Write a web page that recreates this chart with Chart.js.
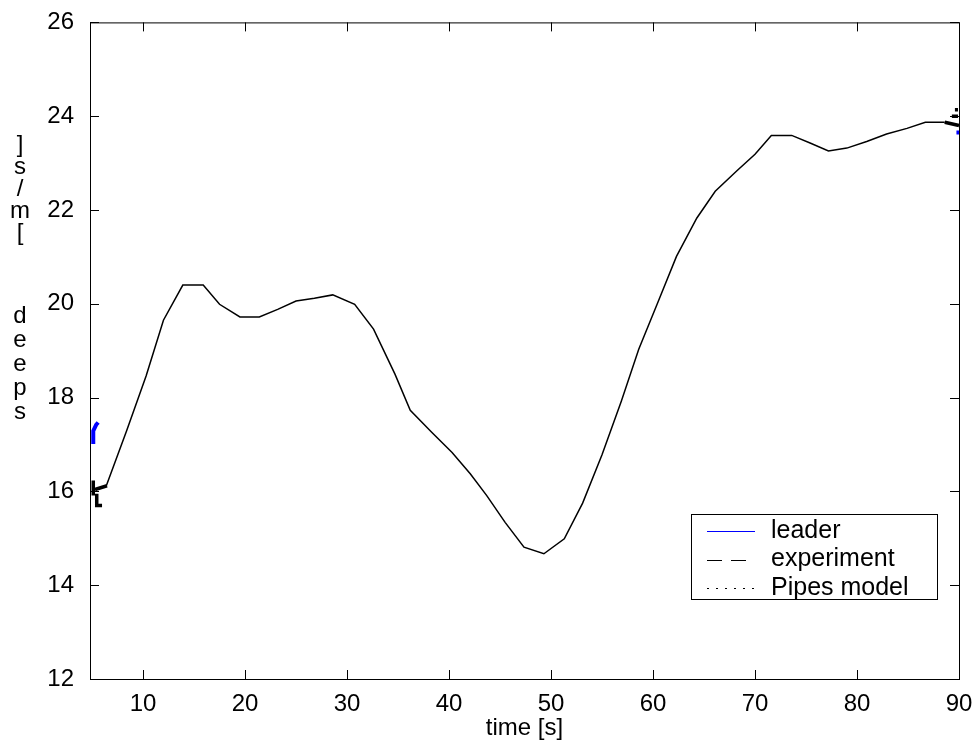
<!DOCTYPE html>
<html>
<head>
<meta charset="utf-8">
<title>speed vs time</title>
<script src="https://cdn.jsdelivr.net/npm/chart.js@4.4.1/dist/chart.umd.min.js"></script>
<style>
  html, body { margin: 0; padding: 0; background: #fff; }
  #wrap { width: 979px; height: 748px; }
</style>
</head>
<body>
<div id="wrap"><canvas id="speedChart" width="979" height="748"></canvas></div>
<script>
// data
const modelTime = [6.4, 8.4, 10.3, 12.0, 13.9, 15.9, 17.5, 19.5, 21.4, 23.2, 25.0, 26.8, 28.6, 30.75,
    32.6, 34.7, 36.2, 38.3, 40.3, 42.1, 43.7, 45.5, 47.35, 49.3, 51.3, 53.1, 55.0, 56.9, 58.6, 60.4,
    62.3, 64.3, 66.1, 68.2, 70.0, 71.6, 73.6, 75.4, 77.2, 79.0, 80.95, 82.9, 84.9, 86.7, 88.6];
const modelSpeed = [16.12, 17.3, 18.46, 19.65, 20.40, 20.40, 19.99, 19.72, 19.72, 19.88, 20.06, 20.12, 20.19, 19.99,
    19.46, 18.5, 17.73, 17.26, 16.83, 16.37, 15.91, 15.34, 14.81, 14.67, 14.99, 15.75, 16.78, 17.93, 19.03, 19.99,
    21.01, 21.83, 22.40, 22.83, 23.19, 23.59, 23.59, 23.43, 23.26, 23.32, 23.46, 23.62, 23.74, 23.87, 23.87];

// leader: only short pieces visible at both ends (null = break)
const leaderTime  = [5.12, 5.12, 5.4, 5.6, null, 89.75, 90.0];
const leaderSpeed = [17.01, 17.29, 17.42, 17.47, null, 23.65, 23.65];

// experiment: thick black fragments at both ends
const expTime  = [5.12, 5.12, null, 5.29, 6.47, null, 5.46, 5.46, 5.98, null, 88.6, 90.0, null, 89.6, 89.9, null, 89.3, 89.9];
const expSpeed = [16.23, 15.91, null, 16.04, 16.12, null, 15.95, 15.70, 15.70, null, 23.87, 23.80, null, 24.14, 24.14, null, 24.0, 24.0];

const xTicks = [10, 20, 30, 40, 50, 60, 70, 80, 90];
const yTicks = [12, 14, 16, 18, 20, 22, 24, 26];
const legendLabels = ['leader', 'experiment', 'Pipes model'];

const FONT = "'Liberation Sans', Arial, Helvetica, sans-serif";

function toPoints(xs, ys) {
    return xs.map((x, i) => (x === null ? { x: NaN, y: null } : { x: x, y: ys[i] }));
}

// box + inward tick marks like the original plot
const frameTicks = {
    id: 'frameTicks',
    afterDatasetsDraw(chart) {
        const { ctx, chartArea: a, scales } = chart;
        ctx.save();
        ctx.strokeStyle = '#000';
        ctx.lineWidth = 1;
        ctx.strokeRect(a.left + 0.5, a.top + 0.5, a.right - a.left, a.bottom - a.top);
        const len = 9;
        ctx.beginPath();
        xTicks.forEach(v => {
            const px = Math.round(scales.x.getPixelForValue(v)) + 0.5;
            ctx.moveTo(px, a.bottom); ctx.lineTo(px, a.bottom - len);
            ctx.moveTo(px, a.top); ctx.lineTo(px, a.top + len);
        });
        yTicks.forEach(v => {
            const py = Math.round(scales.y.getPixelForValue(v)) + 0.5;
            ctx.moveTo(a.left, py); ctx.lineTo(a.left + len, py);
            ctx.moveTo(a.right, py); ctx.lineTo(a.right - len, py);
        });
        ctx.stroke();
        ctx.restore();
    },
    afterDraw(chart) {
        const ctx = chart.ctx;
        ctx.save();
        // stacked y label (as in the source figure)
        ctx.fillStyle = '#000';
        ctx.font = '24px ' + FONT;
        ctx.textAlign = 'center';
        ctx.textBaseline = 'alphabetic';
        const parts = 'speed [m/s]'.split('').reverse().join('').split(' ');
        parts[0].split('').forEach((c, i) => ctx.fillText(c, 20, 152 + i * 22));
        parts[1].split('').forEach((c, i) => ctx.fillText(c, 20, 323 + i * 24));

        // legend box
        const bx = 691, by = 514, bw = 246, bh = 85;
        ctx.fillStyle = '#fff';
        ctx.fillRect(bx, by, bw, bh);
        ctx.strokeStyle = '#000';
        ctx.lineWidth = 1;
        ctx.strokeRect(bx + 0.5, by + 0.5, bw, bh);
        const styles = [
            { color: '#0000ff', dash: [] },
            { color: '#000', dash: [15, 9] },
            { color: '#000', dash: [2, 7] }
        ];
        legendLabels.forEach((lab, i) => {
            const y = 531 + i * 28.5;
            ctx.beginPath();
            ctx.setLineDash(styles[i].dash);
            ctx.strokeStyle = styles[i].color;
            ctx.moveTo(707, Math.round(y) + 0.5);
            ctx.lineTo(755, Math.round(y) + 0.5);
            ctx.stroke();
            ctx.setLineDash([]);
            ctx.fillStyle = '#000';
            ctx.font = '25px ' + FONT;
            ctx.textAlign = 'left';
            ctx.textBaseline = 'middle';
            ctx.fillText(lab, 771, y);
        });
        ctx.restore();
    }
};

new Chart(document.getElementById('speedChart'), {
    type: 'line',
    data: {
        datasets: [
            {
                label: 'Pipes model',
                data: toPoints(modelTime, modelSpeed),
                borderColor: '#000',
                borderWidth: 1.5,
                pointRadius: 0,
                tension: 0
            },
            {
                label: 'leader',
                data: toPoints(leaderTime, leaderSpeed),
                borderColor: '#0000ff',
                borderWidth: 4,
                pointRadius: 0,
                spanGaps: false
            },
            {
                label: 'experiment',
                data: toPoints(expTime, expSpeed),
                borderColor: '#000',
                borderWidth: 3.5,
                pointRadius: 0,
                spanGaps: false
            }
        ]
    },
    options: {
        responsive: false,
        animation: false,
        clip: false,
        layout: { padding: { top: 20, right: 20, left: 0, bottom: 0 } },
        plugins: { legend: { display: false }, tooltip: { enabled: false } },
        scales: {
            x: {
                type: 'linear',
                min: 4.8,
                max: 90,
                afterBuildTicks: s => { s.ticks = xTicks.map(v => ({ value: v })); },
                afterFit: s => { s.height = 69; },
                grid: { display: false },
                border: { display: false },
                ticks: { color: '#000', font: { family: FONT, size: 24 }, padding: 3, maxRotation: 0 },
                title: { display: true, text: 'time [s]', color: '#000', font: { family: FONT, size: 24 }, padding: { top: 0, bottom: 5 } }
            },
            y: {
                type: 'linear',
                min: 12,
                max: 26,
                afterBuildTicks: s => { s.ticks = yTicks.map(v => ({ value: v })); },
                afterFit: s => { s.width = 90; },
                grid: { display: false },
                border: { display: false },
                ticks: { color: '#000', font: { family: FONT, size: 24 }, padding: 8 }
            }
        }
    },
    plugins: [frameTicks]
});
</script>
</body>
</html>
